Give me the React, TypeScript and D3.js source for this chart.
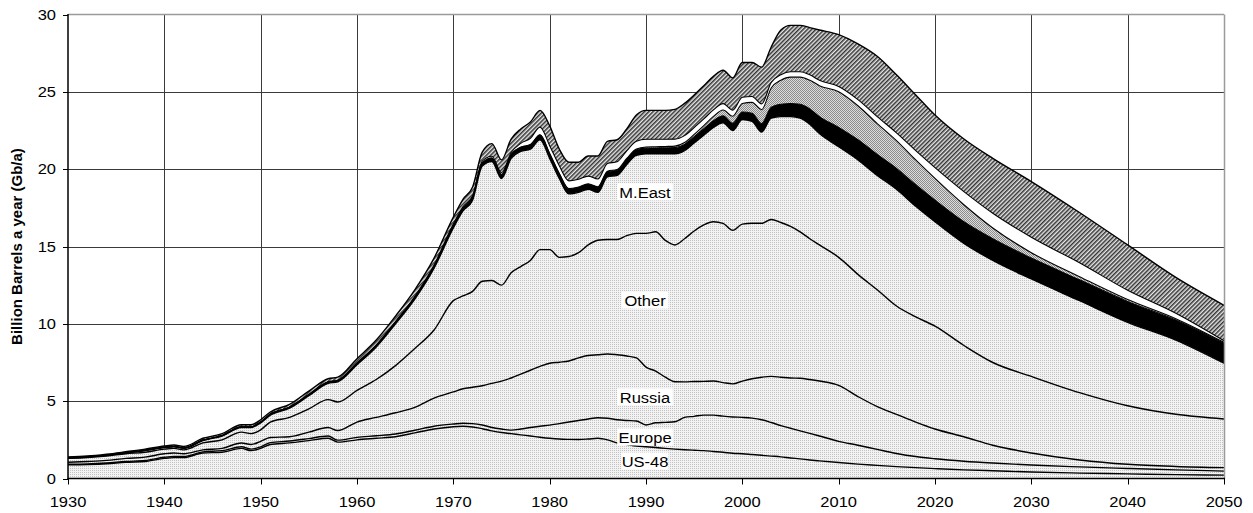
import React from 'react';
import * as d3 from 'd3';

const years = [1930, 1932, 1934, 1936, 1938, 1940, 1941, 1942, 1944, 1946, 1948, 1949, 1950, 1951, 1953, 1955, 1957, 1958, 1960, 1962, 1964, 1966, 1968, 1970, 1971, 1972, 1973, 1974, 1975, 1976, 1977, 1978, 1979, 1980, 1981, 1982, 1983, 1984, 1985, 1986, 1987, 1988, 1989, 1990, 1991, 1992, 1993, 1994, 1995, 1996, 1997, 1998, 1999, 2000, 2001, 2002, 2003, 2004, 2005, 2006, 2007, 2008, 2010, 2012, 2014, 2016, 2018, 2020, 2023, 2026, 2030, 2035, 2040, 2045, 2050];

const us48 = [0.88, 0.9, 0.95, 1.05, 1.1, 1.3, 1.35, 1.35, 1.65, 1.7, 1.95, 1.8, 1.95, 2.2, 2.3, 2.45, 2.6, 2.35, 2.5, 2.6, 2.7, 2.95, 3.2, 3.35, 3.38, 3.33, 3.22, 3.08, 2.97, 2.9, 2.82, 2.75, 2.67, 2.6, 2.55, 2.53, 2.52, 2.55, 2.6, 2.5, 2.3, 2.2, 2.1, 2.05, 2.0, 1.95, 1.9, 1.86, 1.83, 1.8, 1.75, 1.7, 1.63, 1.6, 1.55, 1.5, 1.45, 1.4, 1.33, 1.27, 1.2, 1.14, 1.03, 0.93, 0.85, 0.77, 0.7, 0.64, 0.56, 0.5, 0.42, 0.35, 0.3, 0.25, 0.22];

const europe = [0.04, 0.04, 0.05, 0.05, 0.06, 0.07, 0.07, 0.07, 0.07, 0.1, 0.1, 0.1, 0.1, 0.12, 0.12, 0.13, 0.15, 0.13, 0.16, 0.16, 0.18, 0.17, 0.18, 0.17, 0.19, 0.22, 0.24, 0.22, 0.23, 0.23, 0.38, 0.55, 0.71, 0.85, 1.0, 1.12, 1.23, 1.3, 1.33, 1.4, 1.5, 1.55, 1.62, 1.41, 1.6, 1.68, 1.77, 2.09, 2.19, 2.3, 2.35, 2.33, 2.35, 2.35, 2.35, 2.3, 2.17, 2.02, 1.92, 1.81, 1.72, 1.61, 1.37, 1.22, 1.03, 0.85, 0.72, 0.64, 0.56, 0.5, 0.45, 0.4, 0.35, 0.31, 0.26];

const russia = [0.13, 0.16, 0.17, 0.2, 0.22, 0.23, 0.23, 0.18, 0.13, 0.15, 0.25, 0.3, 0.35, 0.33, 0.28, 0.42, 0.55, 0.62, 0.99, 1.19, 1.37, 1.48, 1.82, 2.08, 2.23, 2.35, 2.54, 2.85, 3.1, 3.37, 3.55, 3.7, 3.87, 4.0, 3.97, 3.95, 4.05, 4.1, 4.07, 4.15, 4.2, 4.17, 4.08, 3.74, 3.35, 2.92, 2.59, 2.3, 2.25, 2.18, 2.2, 2.17, 2.14, 2.35, 2.55, 2.75, 2.98, 3.13, 3.25, 3.4, 3.48, 3.55, 3.62, 3.15, 2.77, 2.53, 2.23, 1.92, 1.58, 1.15, 0.78, 0.45, 0.27, 0.22, 0.22];

const other = [0.25, 0.25, 0.28, 0.3, 0.32, 0.3, 0.3, 0.25, 0.45, 0.55, 0.7, 0.7, 0.75, 1.0, 1.25, 1.5, 1.8, 1.85, 2.05, 2.45, 3.05, 3.8, 4.4, 5.9, 6.0, 6.2, 6.75, 6.65, 6.2, 6.8, 6.95, 7.1, 7.55, 7.35, 6.78, 6.75, 6.8, 7.15, 7.4, 7.4, 7.45, 7.78, 8.05, 8.65, 9.0, 8.85, 8.84, 9.25, 9.73, 10.12, 10.3, 10.3, 9.93, 10.15, 10.05, 9.95, 10.15, 10.0, 9.8, 9.47, 9.1, 8.8, 8.28, 7.9, 7.55, 7.0, 6.8, 6.65, 5.9, 5.35, 4.95, 4.35, 3.78, 3.37, 3.15];

const mEast = [0.04, 0.04, 0.05, 0.06, 0.1, 0.1, 0.1, 0.1, 0.15, 0.25, 0.3, 0.4, 0.45, 0.45, 0.6, 0.85, 1.05, 1.3, 1.65, 2.1, 2.7, 3.2, 4.0, 4.7, 5.5, 5.9, 7.45, 7.7, 6.9, 7.4, 7.45, 7.2, 7.1, 5.9, 5.1, 4.05, 3.9, 3.6, 3.1, 4.05, 4.15, 4.6, 5.05, 5.15, 5.05, 5.6, 5.9, 5.7, 5.7, 5.8, 6.1, 6.5, 6.45, 6.75, 6.6, 5.9, 6.55, 6.85, 7.1, 7.35, 7.4, 7.2, 7.15, 7.4, 7.4, 7.55, 7.15, 6.75, 6.6, 6.6, 6.3, 5.95, 5.4, 4.8, 3.6];

const heavy = [0.01, 0.01, 0.01, 0.01, 0.02, 0.02, 0.02, 0.02, 0.03, 0.03, 0.04, 0.04, 0.05, 0.05, 0.06, 0.07, 0.08, 0.08, 0.1, 0.1, 0.11, 0.12, 0.13, 0.15, 0.16, 0.18, 0.2, 0.22, 0.25, 0.25, 0.27, 0.28, 0.3, 0.3, 0.3, 0.32, 0.32, 0.32, 0.32, 0.33, 0.33, 0.34, 0.35, 0.36, 0.37, 0.38, 0.39, 0.4, 0.4, 0.42, 0.43, 0.45, 0.47, 0.5, 0.52, 0.55, 0.7, 0.8, 0.85, 0.9, 1.0, 1.1, 1.25, 1.3, 1.35, 1.35, 1.4, 1.4, 1.4, 1.4, 1.35, 1.35, 1.35, 1.3, 1.3];

const deepwater = [0, 0, 0, 0, 0, 0, 0, 0, 0, 0, 0, 0, 0, 0, 0, 0, 0, 0, 0, 0, 0, 0, 0, 0, 0, 0, 0, 0, 0, 0, 0, 0.01, 0.02, 0.02, 0.02, 0.02, 0.03, 0.03, 0.04, 0.04, 0.05, 0.05, 0.06, 0.07, 0.08, 0.09, 0.1, 0.12, 0.15, 0.2, 0.28, 0.38, 0.45, 0.55, 0.7, 0.9, 1.25, 1.55, 1.7, 1.75, 1.85, 2.0, 2.3, 2.2, 2.0, 1.8, 1.6, 1.4, 1.1, 0.7, 0.35, 0.2, 0.12, 0.08, 0.05];

const polar = [0, 0, 0, 0, 0, 0, 0, 0, 0, 0, 0, 0, 0.01, 0.01, 0.01, 0.02, 0.02, 0.02, 0.03, 0.03, 0.04, 0.05, 0.07, 0.1, 0.1, 0.1, 0.12, 0.12, 0.12, 0.12, 0.25, 0.4, 0.5, 0.5, 0.5, 0.5, 0.5, 0.5, 0.5, 0.5, 0.5, 0.5, 0.5, 0.5, 0.48, 0.46, 0.45, 0.45, 0.44, 0.43, 0.42, 0.41, 0.4, 0.4, 0.38, 0.37, 0.36, 0.36, 0.35, 0.35, 0.35, 0.35, 0.35, 0.4, 0.45, 0.5, 0.6, 0.7, 0.85, 0.95, 1.0, 0.9, 0.6, 0.35, 0.1];

const ngl = [0.05, 0.05, 0.06, 0.06, 0.08, 0.08, 0.1, 0.1, 0.12, 0.12, 0.14, 0.14, 0.14, 0.14, 0.18, 0.21, 0.2, 0.2, 0.27, 0.32, 0.35, 0.43, 0.45, 0.45, 0.49, 0.57, 0.58, 0.81, 0.83, 0.88, 0.93, 1.06, 1.08, 1.28, 1.08, 1.21, 1.1, 1.3, 1.49, 1.43, 1.42, 1.41, 1.69, 1.87, 1.87, 1.87, 1.93, 2.08, 2.11, 2.15, 2.17, 2.16, 2.08, 2.25, 2.2, 2.38, 2.29, 2.89, 3.0, 3.0, 3.05, 3.25, 3.35, 3.6, 3.9, 3.75, 3.6, 3.4, 3.4, 3.55, 3.6, 3.25, 2.93, 2.32, 2.3];

const seriesKeys = ['US-48', 'Europe', 'Russia', 'Other', 'M.East', 'Heavy', 'Deepwater', 'Polar', 'NGL'];
const seriesValues = [us48, europe, russia, other, mEast, heavy, deepwater, polar, ngl];

const xTicks = [1930, 1940, 1950, 1960, 1970, 1980, 1990, 2000, 2010, 2020, 2030, 2040, 2050];
const yTicks = [0, 5, 10, 15, 20, 25, 30];

const areaLabels = [
  { text: 'M.East', year: 1990.0, value: 18.5 },
  { text: 'Other', year: 1990.0, value: 11.5 },
  { text: 'Russia', year: 1990.0, value: 5.25 },
  { text: 'Europe', year: 1990.0, value: 2.65 },
  { text: 'US-48', year: 1990.0, value: 1.1 },
];

const fills = ['url(#regular)', 'url(#regular)', 'url(#regular)', 'url(#regular)', 'url(#regular)', '#000', 'url(#deep)', '#fff', 'url(#hatch)'];

export default function App() {
  const W = 1253;
  const H = 513;
  const left = 68;
  const right = 1224;
  const top = 14.5;
  const bottom = 478.5;

  const x = d3.scaleLinear().domain([1930, 2050]).range([left, right]);
  const y = d3.scaleLinear().domain([0, 30]).range([bottom, top]);

  const rows = years.map((yr, i) => {
    const r: any = { year: yr };
    seriesKeys.forEach((k, j) => { r[k] = seriesValues[j][i]; });
    return r;
  });
  const stacked = d3.stack<any>().keys(seriesKeys)(rows);

  const curve = d3.curveMonotoneX;
  const area = d3.area<any>()
    .x((d) => x(d.data.year))
    .y0((d) => y(d[0]))
    .y1((d) => y(d[1]))
    .curve(curve);
  const line = d3.line<any>()
    .x((d) => x(d.data.year))
    .y((d) => y(d[1]))
    .curve(curve);

  const snap = (v: number) => Math.round(v) + 0.5;
  const font = 'Arial, "Liberation Sans", Helvetica, sans-serif';

  return (
    <svg width={W} height={H} style={{ position: 'absolute', left: 0, top: 0, background: '#fff' }}>
      <defs>
        <pattern id="regular" patternUnits="userSpaceOnUse" width="2" height="2">
          <rect width="2" height="2" fill="#f3f3f3" />
          <rect width="1" height="1" fill="#c2c2c2" />
        </pattern>
        <pattern id="deep" patternUnits="userSpaceOnUse" width="2" height="2">
          <rect width="2" height="2" fill="#dcdcdc" />
          <rect width="1" height="1" fill="#8c8c8c" />
          <rect x="1" y="1" width="1" height="1" fill="#8c8c8c" />
        </pattern>
        <pattern id="hatch" patternUnits="userSpaceOnUse" width="3" height="3" patternTransform="rotate(45)">
          <rect width="3" height="3" fill="#e6e6e6" />
          <rect width="1.5" height="3" fill="#333" />
        </pattern>
      </defs>
      <rect x={0} y={0} width={W} height={H} fill="#fff" />

      {/* gridlines */}
      {yTicks.filter((t) => t > 0 && t < 30).map((t) => (
        <line key={'gy' + t} x1={left} x2={right} y1={snap(y(t))} y2={snap(y(t))} stroke="#3a3a3a" strokeWidth={1} />
      ))}
      {xTicks.filter((t) => t > 1930 && t < 2050).map((t) => (
        <line key={'gx' + t} x1={snap(x(t))} x2={snap(x(t))} y1={top} y2={bottom} stroke="#3a3a3a" strokeWidth={1} />
      ))}

      {/* areas */}
      {stacked.map((s, i) => (
        <path key={'a' + i} d={area(s) || ''} fill={fills[i]} stroke="none" />
      ))}
      {stacked.map((s, i) => (
        <path key={'l' + i} d={line(s) || ''} fill="none" stroke="#000" strokeWidth={i >= 5 && i <= 7 ? 1.1 : 1.4} strokeLinejoin="round" />
      ))}

      {/* plot border */}
      <line x1={left} x2={right} y1={top} y2={top} stroke="#9a9a9a" strokeWidth={1.5} />
      <line x1={right + 0.5} x2={right + 0.5} y1={top} y2={bottom} stroke="#9a9a9a" strokeWidth={1.5} />

      {/* axes */}
      <line x1={left} x2={left} y1={top - 0.5} y2={bottom + 1} stroke="#000" strokeWidth={1.5} />
      <line x1={left - 0.5} x2={right + 1} y1={bottom} y2={bottom} stroke="#000" strokeWidth={1.5} />
      {yTicks.map((t) => (
        <g key={'ty' + t}>
          <line x1={left - 5} x2={left} y1={snap(y(t))} y2={snap(y(t))} stroke="#000" strokeWidth={1} />
          <text x={0} y={0} transform={`translate(${left - 12},${y(t) + 5.3}) scale(1.1,1)`} textAnchor="end" fontFamily={font} fontSize={15} fill="#000">{t}</text>
        </g>
      ))}
      {xTicks.map((t) => (
        <g key={'tx' + t}>
          <line x1={snap(x(t))} x2={snap(x(t))} y1={bottom} y2={bottom + 6} stroke="#000" strokeWidth={1} />
          <text x={0} y={0} transform={`translate(${x(t)},${507}) scale(1.1,1)`} textAnchor="middle" fontFamily={font} fontSize={15} fill="#000">{t}</text>
        </g>
      ))}

      <text transform={`translate(22,${(top + bottom) / 2}) rotate(-90)`} textAnchor="middle" fontFamily={font} fontSize={15} fontWeight="bold" fill="#000">Billion Barrels a year (Gb/a)</text>

      {/* labels */}
      {areaLabels.map((l) => {
        const cx = x(l.year) - 1;
        const cy = y(l.value);
        const w = l.text.length * 8.6 + 4;
        return (
          <g key={l.text}>
            <rect x={cx - w / 2} y={cy - 9} width={w} height={17} fill="#fff" />
            <text x={0} y={0} transform={`translate(${cx},${cy + 5.3}) scale(1.1,1)`} textAnchor="middle" fontFamily={font} fontSize={15} fill="#000">{l.text}</text>
          </g>
        );
      })}
    </svg>
  );
}
